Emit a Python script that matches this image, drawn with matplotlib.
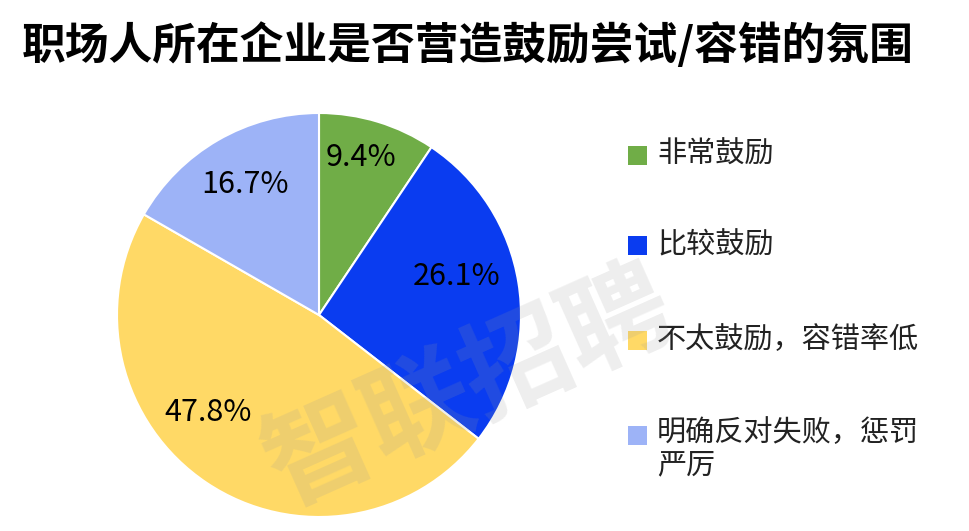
import matplotlib
matplotlib.use('Agg')
from matplotlib import pyplot as plt
from matplotlib.patches import Rectangle

plt.rcParams['font.family'] = ['Noto Sans CJK SC', 'DejaVu Sans']

# Chart data
title = '职场人所在企业是否营造鼓励尝试/容错的氛围'
labels = ['非常鼓励', '比较鼓励', '不太鼓励，容错率低', '明确反对失败，惩罚\n严厉']
values = [9.4, 26.1, 47.8, 16.7]
colors = ['#70AD47', '#0A3CF0', '#FFD966', '#9DB3F7']

fig = plt.figure(figsize=(9.69, 5.31), dpi=100)

# Pie axes: center at (319, 315) px, radius about 202 px
ax = fig.add_axes([(319 - 202) / 969, (531 - 315 - 202) / 531, 404 / 969, 404 / 531])
wedges, texts, autotexts = ax.pie(values, colors=colors, startangle=90, counterclock=False,
                                  autopct='%.1f%%', pctdistance=0.77,
                                  wedgeprops=dict(edgecolor='white', linewidth=1.5),
                                  textprops=dict(fontsize=22, color='black'))
ax.set_xlim(-1, 1)
ax.set_ylim(-1, 1)
ax.set_aspect('equal')

# label placement like the original (not exactly at the wedge middle)
label_pos = [(0.21, 0.78), (0.68, 0.19), (-0.55, -0.485), (-0.365, 0.645)]
for t, p in zip(autotexts, label_pos):
    t.set_position(p)

# Watermark
fig.text(0.485, 0.27, '智联招聘', fontsize=78, fontweight='bold', color='#9a9a9a', alpha=0.17,
         rotation=24, ha='center', va='center', zorder=10)

# Title
fig.text(22 / 969, 1 - 45 / 531, title, fontsize=31.5, fontweight='black', ha='left', va='center')

# Legend drawn by hand so the wrapped label lines up with its square
row_y = [155, 245, 340, 435]
for y, lab, c in zip(row_y, labels, colors):
    fig.patches.append(Rectangle((628 / 969, 1 - (y + 10) / 531), 19 / 969, 19 / 531,
                                 facecolor=c, edgecolor='none', transform=fig.transFigure))
    if '\n' in lab:
        fig.text(657 / 969, 1 - (y - 17) / 531, lab, fontsize=21, color='#222222',
                 ha='left', va='top', linespacing=1.1)
    else:
        fig.text(657 / 969, 1 - y / 531, lab, fontsize=21, color='#222222',
                 ha='left', va='center')

fig.savefig('out.png', dpi=100)
